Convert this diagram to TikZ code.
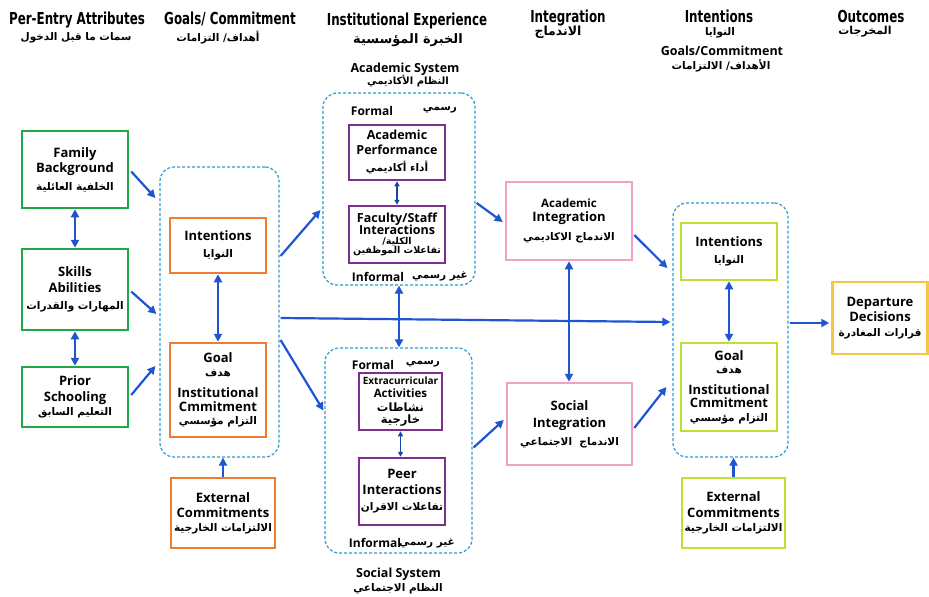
\documentclass[tikz,border=0pt]{standalone}
\usepackage{fontspec}
\setmainfont{Open Sans}
\newfontfamily\hdr[FakeStretch=0.72]{DejaVu Sans}
\newfontfamily\arfont[Script=Arabic]{DejaVu Sans}
\TeXXeTstate=1
\usetikzlibrary{arrows.meta,calc}
\definecolor{cgreen}{HTML}{22A64A}
\definecolor{corange}{HTML}{ED7D31}
\definecolor{cpurple}{HTML}{7E2F8E}
\definecolor{cpink}{HTML}{F2A0C4}
\definecolor{clime}{HTML}{BDE034}
\definecolor{cyellow}{HTML}{F5C842}
\definecolor{ablue}{HTML}{1E56D2}
\definecolor{dblue}{HTML}{2C9BD2}
\newcommand\arb[2][10.5]{{\arfont\bfseries\fontsize{#1}{#1}\selectfont\beginR #2\endR}}
\newcommand\arn[2][12]{{\arfont\fontsize{#1}{#1}\selectfont\beginR #2\endR}}
\begin{document}
\begin{tikzpicture}[x=1pt,y=-1pt,
  hd/.style={font=\hdr\bfseries\fontsize{16.5}{18}\selectfont, inner sep=0pt, anchor=base},
  sh/.style={font=\bfseries\fontsize{12.5}{14}\selectfont, inner sep=0pt, anchor=base},
  lbl/.style={font=\bfseries\fontsize{12}{14}\selectfont, inner sep=0pt, anchor=base},
  ar/.style={inner sep=0pt},
  bx/.style={draw, line width=2.5pt, inner sep=0pt, align=center, font=\bfseries\fontsize{13}{15.5}\selectfont},
  dbox/.style={draw=dblue, line width=1.2pt, dash pattern=on 3pt off 2pt, rounded corners=14pt, inner sep=0pt},
  arr/.style={draw=ablue, line width=2.2pt, -{Triangle[length=8pt,width=8pt]}},
  darr/.style={draw=ablue, line width=2.2pt, {Triangle[length=8pt,width=8pt]}-{Triangle[length=8pt,width=8pt]}},
  tarr/.style={draw=ablue!80!black, line width=1.3pt, {Triangle[length=5pt,width=5pt]}-{Triangle[length=5pt,width=5pt]}}
]
\fill[white] (0,0) rectangle (929,597);
\useasboundingbox (0,0) rectangle (929,597);

% headers
\node[hd] (h1) at (77,24) {Per-Entry Attributes};
\node[ar] (h1a) at (76,38) {\arb{سمات ما قبل الدخول}};
\node[hd] (h2) at (230,24) {Goals/ Commitment};
\node[ar] (h2a) at (218,38) {\arb{أهداف/ التزامات}};
\node[hd] (h3) at (407,25) {Institutional Experience};
\node[ar] (h3a) at (408,40) {\arb[13]{الخبرة المؤسسية}};
\node[sh] (h3b) at (405,72) {Academic System};
\node[ar] (h3c) at (408,81) {\arb[10]{النظام الأكاديمي}};
\node[hd] (h4) at (568,23) {Integration};
\node[ar] (h4a) at (558,32) {\arb[12.5]{الاندماج}};
\node[hd] (h5) at (719,23) {Intentions};
\node[ar] (h5a) at (720,33) {\arb{النوايا}};
\node[sh] (h5b) at (722,55) {Goals/Commitment};
\node[ar] (h5c) at (721,66) {\arb{الأهداف/ الالتزامات}};
\node[hd] (h6) at (871,22) {Outcomes};
\node[ar] (h6a) at (865,32) {\arb[11]{المخرجات}};

% containers
\node[dbox, minimum width=119pt, minimum height=290pt] (gc) at (219.5,312) {};
\node[dbox, minimum width=152pt, minimum height=192pt] (acad) at (399,189) {};
\node[dbox, minimum width=147pt, minimum height=205pt] (soc) at (398.5,450.5) {};
\node[dbox, minimum width=115pt, minimum height=254pt] (rc) at (730.5,330) {};

% green boxes
\node[bx, draw=cgreen, minimum width=106pt, minimum height=77pt] (fam) at (75,169.5) {Family\\Background\\[2pt]\arb{الخلفية العائلية}};
\node[bx, draw=cgreen, minimum width=106pt, minimum height=81pt] (skl) at (75,289.5) {Skills\\Abilities\\[2pt]\arb{المهارات والقدرات}};
\node[bx, draw=cgreen, minimum width=106pt, minimum height=60pt] (pri) at (75,397) {Prior\\Schooling\\[-1pt]\arb{التعليم السابق}};

% orange boxes
\node[bx, draw=corange, minimum width=96pt, minimum height=55pt] (oint) at (218,245.5) {Intentions\\[2pt]\arb{النوايا}};
\node[bx, draw=corange, minimum width=96pt, minimum height=94pt] (ogoal) at (218,390) {Goal\\[-2pt]\arb{هدف}\\[6pt]Institutional\\[-2pt]Cmmitment\\[-2pt]\arb{التزام مؤسسي}};
\node[bx, draw=corange, minimum width=104pt, minimum height=70pt] (oext) at (223,513) {External\\Commitments\\[-2pt]\arb{الالتزامات الخارجية}};

% academic system
\node[lbl] (f1) at (372,115) {Formal};
\node[ar] (f1a) at (440,110) {\arb[10.5]{رسمي}};
\node[lbl] (i1) at (378,281) {Informal};
\node[ar] (i1a) at (440,276) {\arb[10.5]{غير رسمي}};
\node[bx, draw=cpurple, minimum width=96pt, minimum height=55pt, font=\bfseries\fontsize{12.5}{15}\selectfont] (aperf) at (397,152.5) {Academic\\Performance\\[2pt]\arb{أداء أكاديمي}};
\node[bx, draw=cpurple, minimum width=96pt, minimum height=57pt, font=\bfseries\fontsize{12.5}{13}\selectfont] (fac) at (397,234.5) {Faculty/Staff\\[-1pt]Interactions\\[-3pt]\arb[9.5]{الكلية/}\\[-4pt]\arb[9.5]{تفاعلات الموظفين}};

% social system
\node[lbl] (f2) at (373,369) {Formal};
\node[ar] (f2a) at (423,364) {\arb[10.5]{رسمي}};
\node[lbl] (i2) at (375,547) {Informal};
\node[ar] (i2a) at (427,543) {\arb[10.5]{غير رسمي}};
\node[bx, draw=cpurple, minimum width=83pt, minimum height=57pt, font=\bfseries\fontsize{11.5}{12.5}\selectfont] (extra) at (400.5,401.5) {{\fontsize{10}{12}\selectfont Extracurricular}\\[1pt]Activities\\[1pt]\arn[11.5]{نشاطات}\\[0pt]\arn[11.5]{خارجية}};
\node[bx, draw=cpurple, minimum width=86pt, minimum height=67pt] (peer) at (402,491.5) {Peer\\Interactions\\[1pt]\arb{تفاعلات الاقران}};
\node[sh] (ss) at (398.5,577) {Social System};
\node[ar] (ssa) at (398,589) {\arb{النظام الاجتماعي}};

% integration
\node[bx, draw=cpink, minimum width=126pt, minimum height=78pt] (aint) at (569,221) {{\fontsize{11.5}{13}\selectfont Academic}\\[-2pt]Integration\\[4pt]\arb{الاندماج الاكاديمي}};
\node[bx, draw=cpink, minimum width=125pt, minimum height=82pt] (sint) at (569.5,424) {Social\\[2pt]Integration\\[2pt]\arb{الاندماج~~الاجتماعي}};

% right lime boxes
\node[bx, draw=clime, minimum width=96pt, minimum height=57pt] (gint) at (729,251.5) {Intentions\\[2pt]\arb{النوايا}};
\node[bx, draw=clime, minimum width=96pt, minimum height=88pt] (ggoal) at (729,387) {Goal\\[-2pt]\arb{هدف}\\[5pt]Institutional\\[-2pt]Cmmitment\\[-2pt]\arb{التزام مؤسسي}};
\node[bx, draw=clime, minimum width=103pt, minimum height=70pt] (gext) at (733.5,513) {External\\Commitments\\[-1pt]\arb{الالتزامات الخارجية}};
\node[bx, draw=cyellow, minimum width=95pt, minimum height=72pt] (dep) at (880,318) {Departure\\Decisions\\[-1pt]\arb{قرارات المغادرة}};

% arrows
\draw[darr] (fam.south) -- (skl.north);
\draw[darr] (skl.south) -- (pri.north);
\draw[arr] ($(fam.east)+(2,2)$) -- ($(gc.west)+(-4,-114)$);
\draw[arr] ($(skl.east)+(2,2)$) -- ($(gc.west)+(-3,2)$);
\draw[arr] ($(pri.east)+(2,-2)$) -- ($(gc.west)+(-4,54)$);
\draw[darr] (oint.south) -- (ogoal.north);
\draw[arr] (oext.north) -- (oext.north |- gc.south);
\draw[arr] ($(gc.east)+(1,-56)$) -- ($(acad.west)+(-2,21)$);
\draw[arr] ($(gc.east)+(1,28)$) -- ($(soc.west)+(-1,-40)$);
\draw[arr] ($(gc.east)+(1,6)$) -- ($(rc.west)+(-2,-8)$);
\draw[darr] (acad.south) -- (acad.south |- soc.north);
\draw[tarr] (aperf.south) -- (fac.north);
\draw[tarr] (extra.south) -- (extra.south |- peer.north);
\draw[arr] ($(acad.east)+(1,14)$) -- ($(aint.west)+(-2,1)$);
\draw[arr] ($(soc.east)+(1,-3)$) -- ($(sint.west)+(-2,-4)$);
\draw[darr] (aint.south) -- (aint.south |- sint.north);
\draw[arr] ($(aint.east)+(1,14)$) -- ($(rc.west)+(-5,-62)$);
\draw[arr] ($(sint.east)+(1,4)$) -- ($(rc.west)+(-6,57)$);
\draw[darr] (gint.south) -- (ggoal.north);
\draw[arr] (gext.north) -- (gext.north |- rc.south);
\draw[arr] ($(rc.east)+(1,-7)$) -- ($(dep.west)+(-2,5)$);
\end{tikzpicture}
\end{document}
